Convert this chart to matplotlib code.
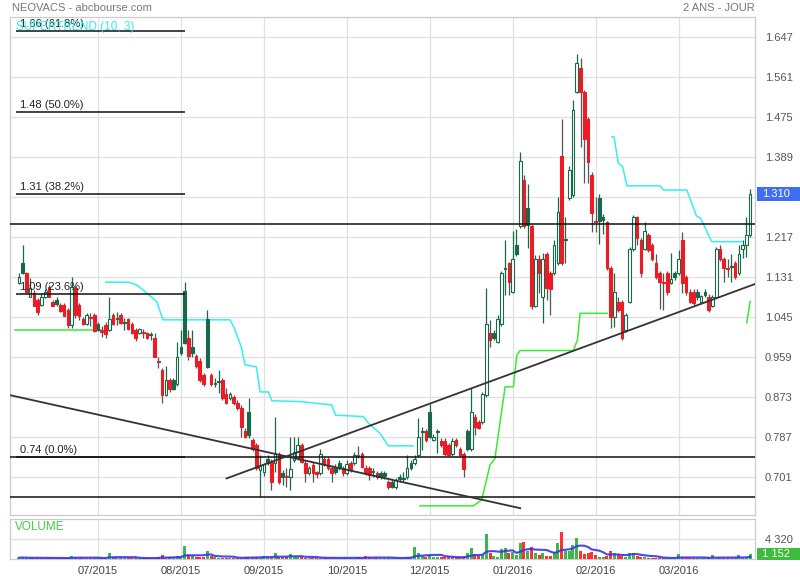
import numpy as np
import pandas as pd
import matplotlib
matplotlib.use('Agg')
import matplotlib.pyplot as plt
from matplotlib.patches import Rectangle
import matplotlib.transforms as mtrans

plt.rcParams['font.family'] = ['Liberation Sans', 'DejaVu Sans']

# ---------------- data ----------------
opens = [1.120,1.162,1.140,1.090,1.097,1.083,1.072,1.090,1.111,1.079,
         1.082,1.072,1.072,1.061,1.029,1.108,1.072,1.042,1.030,1.046,
         1.050,1.030,1.018,1.029,1.018,1.050,1.043,1.050,1.035,1.042,
         1.030,1.018,1.011,1.014,1.011,1.009,1.000,0.951,0.932,0.878,
         0.911,0.911,0.902,0.982,1.102,1.000,0.982,0.962,0.952,0.921,
         1.041,0.921,0.904,0.908,0.911,0.880,0.871,0.873,0.862,0.851,
         0.802,0.841,0.782,0.771,0.717,0.712,0.741,0.735,0.733,0.751,
         0.710,0.704,0.703,0.739,0.742,0.771,0.733,0.710,0.728,0.712,
         0.710,0.740,0.740,0.722,0.724,0.732,0.721,0.710,0.732,0.732,
         0.750,0.751,0.722,0.721,0.715,0.710,0.710,0.711,0.692,0.692,
         0.680,0.703,0.700,0.701,0.732,0.732,0.749,0.801,0.801,0.841,
         0.782,0.801,0.780,0.780,0.771,0.751,0.782,0.762,0.751,0.801,
         0.762,0.832,0.820,0.820,0.878,1.011,1.011,0.992,1.031,1.151,
         1.162,1.100,1.201,1.242,1.341,1.280,1.242,1.070,1.170,1.090,
         1.181,1.140,1.140,1.162,1.392,1.213,1.301,1.308,1.530,1.581,
         1.530,1.472,1.351,1.252,1.301,1.262,1.251,1.151,1.047,1.079,
         1.079,1.018,1.079,1.192,1.260,1.212,1.192,1.222,1.201,1.162,
         1.140,1.121,1.140,1.120,1.140,1.140,1.212,1.131,1.100,1.100,
         1.100,1.079,1.100,1.090,1.070,1.090,1.192,1.170,1.151,1.156,
         1.162,1.140,1.192,1.201,1.222]
highs = [1.141,1.201,1.143,1.130,1.104,1.087,1.098,1.106,1.115,1.083,
         1.089,1.076,1.076,1.065,1.131,1.113,1.076,1.046,1.055,1.055,
         1.055,1.035,1.027,1.035,1.090,1.055,1.057,1.055,1.044,1.044,
         1.035,1.022,1.022,1.020,1.014,1.014,1.012,0.961,0.936,0.941,
         0.915,0.915,0.993,1.018,1.122,1.018,1.018,0.967,0.958,0.926,
         1.061,0.926,0.915,0.932,0.915,0.893,0.885,0.878,0.868,0.857,
         0.807,0.871,0.786,0.775,0.749,0.732,0.749,0.741,0.832,0.756,
         0.717,0.721,0.789,0.789,0.789,0.775,0.739,0.726,0.734,0.716,
         0.762,0.745,0.745,0.728,0.730,0.739,0.726,0.739,0.736,0.756,
         0.769,0.756,0.728,0.726,0.721,0.715,0.715,0.715,0.696,0.696,
         0.700,0.709,0.713,0.749,0.739,0.749,0.828,0.810,0.805,0.860,
         0.795,0.805,0.786,0.786,0.775,0.786,0.786,0.767,0.756,0.805,
         0.893,0.838,0.825,0.885,1.109,1.040,1.018,1.050,1.145,1.212,
         1.164,1.232,1.235,1.400,1.351,1.332,1.246,1.179,1.179,1.184,
         1.186,1.145,1.212,1.305,1.472,1.262,1.371,1.513,1.611,1.602,
         1.534,1.476,1.358,1.305,1.310,1.268,1.252,1.156,1.140,1.090,
         1.083,1.055,1.197,1.265,1.263,1.216,1.251,1.227,1.205,1.181,
         1.145,1.140,1.145,1.183,1.145,1.190,1.229,1.136,1.106,1.106,
         1.106,1.093,1.106,1.096,1.093,1.197,1.201,1.175,1.170,1.181,
         1.166,1.201,1.212,1.262,1.321]
lows = [1.117,1.139,1.098,1.089,1.069,1.050,1.070,1.087,1.089,1.069,
        1.069,1.057,1.048,1.022,1.022,1.044,1.040,1.029,1.029,1.027,
        1.014,1.016,1.003,1.001,1.016,1.029,1.029,1.031,1.018,1.018,
        1.009,0.994,1.009,1.001,0.999,0.997,0.960,0.936,0.862,0.876,
        0.885,0.889,0.898,0.964,0.988,0.954,0.960,0.936,0.906,0.898,
        0.936,0.898,0.896,0.883,0.868,0.859,0.868,0.857,0.846,0.789,
        0.786,0.786,0.758,0.717,0.660,0.704,0.728,0.674,0.713,0.687,
        0.685,0.681,0.674,0.734,0.739,0.732,0.692,0.706,0.692,0.700,
        0.706,0.726,0.717,0.692,0.709,0.717,0.704,0.706,0.713,0.728,
        0.743,0.721,0.706,0.696,0.702,0.698,0.698,0.698,0.676,0.678,
        0.676,0.691,0.691,0.698,0.717,0.728,0.745,0.760,0.777,0.786,
        0.780,0.754,0.767,0.747,0.747,0.747,0.767,0.745,0.703,0.758,
        0.758,0.792,0.806,0.816,0.874,0.982,0.997,0.990,1.027,1.093,
        1.093,1.098,1.177,1.237,1.237,1.194,1.063,1.068,1.097,1.033,
        1.083,1.050,1.136,1.158,1.158,1.162,1.298,1.304,1.528,1.412,
        1.334,1.334,1.229,1.229,1.203,1.225,1.147,1.022,1.025,1.057,
        0.997,1.014,1.076,1.188,1.201,1.133,1.190,1.186,1.166,1.128,
        1.063,1.061,1.093,1.118,1.126,1.136,1.097,1.093,1.076,1.072,
        1.083,1.076,1.089,1.057,1.068,1.087,1.166,1.122,1.133,1.122,
        1.128,1.136,1.172,1.176,1.218]
closes = [1.131,1.140,1.100,1.108,1.070,1.057,1.090,1.100,1.090,1.070,
          1.073,1.059,1.049,1.029,1.111,1.050,1.048,1.030,1.050,1.044,
          1.016,1.018,1.014,1.009,1.042,1.030,1.041,1.033,1.034,1.020,
          1.011,1.000,1.020,1.012,1.000,1.008,0.961,0.950,0.878,0.911,
          0.891,0.892,0.961,0.969,0.991,0.962,0.969,0.941,0.911,0.902,
          0.939,0.902,0.902,0.906,0.871,0.862,0.880,0.861,0.850,0.810,
          0.787,0.792,0.762,0.721,0.728,0.729,0.732,0.691,0.751,0.691,
          0.703,0.702,0.719,0.755,0.771,0.735,0.710,0.721,0.710,0.708,
          0.751,0.729,0.721,0.710,0.713,0.722,0.710,0.730,0.717,0.749,
          0.748,0.724,0.710,0.706,0.713,0.701,0.703,0.704,0.680,0.681,
          0.696,0.697,0.699,0.721,0.721,0.740,0.789,0.799,0.782,0.789,
          0.789,0.799,0.771,0.751,0.749,0.780,0.771,0.749,0.719,0.762,
          0.841,0.810,0.808,0.880,1.030,0.997,1.001,1.041,1.140,1.149,
          1.121,1.170,1.181,1.381,1.242,1.244,1.070,1.170,1.140,1.170,
          1.109,1.107,1.201,1.271,1.162,1.212,1.362,1.491,1.592,1.530,
          1.429,1.380,1.270,1.251,1.252,1.254,1.151,1.047,1.100,1.061,
          1.000,1.050,1.192,1.260,1.215,1.140,1.231,1.190,1.170,1.131,
          1.121,1.120,1.100,1.128,1.132,1.170,1.120,1.100,1.079,1.076,
          1.090,1.091,1.093,1.061,1.090,1.192,1.170,1.151,1.150,1.154,
          1.131,1.181,1.201,1.222,1.310]
volumes = [350,420,300,250,380,300,280,260,240,300,
           260,220,300,340,700,420,380,300,260,280,
           240,300,260,250,1440,500,420,300,260,240,
           250,300,280,240,260,220,300,420,900,350,
           450,400,700,480,2880,900,700,450,400,500,
           1800,700,400,350,300,380,300,260,300,350,
           500,420,600,400,450,700,400,300,1300,500,
           500,400,1150,600,500,400,350,300,280,300,
           350,300,260,280,400,300,260,300,280,300,
           400,300,700,450,350,300,260,280,300,350,
           260,250,300,500,400,2600,1300,800,600,1000,
           450,400,600,450,500,400,350,400,600,1300,
           2520,1100,700,900,5470,1440,700,500,2160,2376,
           1300,1600,1000,3456,3672,1800,2600,1400,1000,1300,
           800,800,1500,3456,5830,1800,1800,3000,4536,1800,
           1200,1300,1500,900,600,400,700,1700,1300,1150,
           800,600,1400,1400,700,450,400,350,300,300,
           250,300,250,300,250,1150,400,300,250,300,
           250,300,250,400,900,300,350,300,250,300,
           300,850,400,600,1152]

date_tick_idx = [21, 43, 65, 87, 109, 131, 153, 175]
date_tick_labels = ['07/2015', '08/2015', '09/2015', '10/2015',
                    '12/2015', '01/2016', '02/2016', '03/2016']
price_ticks = [1.647, 1.561, 1.475, 1.389, 1.303, 1.217, 1.131, 1.045,
               0.959, 0.873, 0.787, 0.701]
volume_tick = 4320

fib_base = 0.7446
fib_span = 1.483
fib_ratios = [0.0, 0.236, 0.382, 0.5, 0.618]
fib_labels = ['0.74 (0.0%)', '1.09 (23.6%)', '1.31 (38.2%)',
              '1.48 (50.0%)', '1.66 (61.8%)']
fib_idx_range = (-0.75, 44.1)
full_hlines = [1.246, 0.7446, 0.660]
trend_down = ([-2.35, 133.0], [0.878, 0.635])
trend_up = ([55.1, 195.3], [0.699, 1.117])

st_support = [
    ([-1.0, 22.0], [1.018, 1.018]),
    ([106.4, 120.6, 122.8, 125.0, 126.3, 129.0, 131.2, 132.1, 133.0, 147.1, 148.2, 148.9, 156.1],
     [0.640, 0.640, 0.653, 0.728, 0.742, 0.896, 0.896, 0.964, 0.974, 0.974, 0.997, 1.054, 1.054]),
    ([193.1, 194.0], [1.034, 1.079]),
]
st_resist = [
    ([23, 29, 31.3, 34, 36.6, 38.2, 56, 57, 59, 60, 63, 64, 66.2, 67.1, 75, 83, 84, 91.4, 92.7, 95.8, 98, 104.6],
     [1.121, 1.121, 1.115, 1.097, 1.079, 1.040, 1.040, 1.025, 0.982, 0.943, 0.939, 0.885, 0.885, 0.866,
      0.864, 0.857, 0.835, 0.832, 0.818, 0.796, 0.769, 0.769]),
    ([157.3, 157.9, 159.0, 160.2, 161.3, 170.1, 171.0, 177.2, 179.8, 180.9, 183.8, 191.8],
     [1.434, 1.433, 1.377, 1.369, 1.328, 1.328, 1.319, 1.319, 1.263, 1.258, 1.208, 1.208]),
]

# ---------------- figure ----------------
W, H = 800, 580
fig = plt.figure(figsize=(W / 100, H / 100), dpi=100)
fig.patch.set_facecolor('white')
ax = fig.add_axes([10 / W, (H - 515) / H, 745 / W, 498 / H])
vax = fig.add_axes([10 / W, (H - 559.3) / H, 745 / W, 40 / H])

GREEN_D = '#17694a'
RED = '#ec1c24'
GRID = '#e0e0e0'
BORDER = '#cccccc'

o = np.array(opens); h = np.array(highs); l = np.array(lows); c = np.array(closes)
n = len(c)
idx = np.arange(n)
prev = np.r_[o[0], c[:-1]]
up_day = c >= prev
hollow = c > o

line_col = np.where(up_day, GREEN_D, RED)
face = np.where(hollow, 'white', line_col)
wick_col = np.where(up_day, GREEN_D, '#555555')

ax.vlines(idx, l, h, colors=wick_col, lw=0.9, zorder=3)
body_h = np.abs(c - o)
mid = (c + o) / 2
min_h = 0.0025
bh = np.maximum(body_h, min_h)
ax.bar(idx, bh, bottom=mid - bh / 2, width=0.7, color=face,
       edgecolor=line_col, linewidth=0.8, zorder=4)

# horizontal lines and fibonacci
for v in full_hlines:
    ax.axhline(v, color='#111111', lw=1.1, zorder=5)
for r, lab in zip(fib_ratios, fib_labels):
    lev = fib_base + r * fib_span
    ax.hlines(lev, fib_idx_range[0], fib_idx_range[1], colors='#111111', lw=1.1, zorder=5)
    ax.annotate(lab, xy=(0.3, lev), xytext=(0, 1.5), textcoords='offset points',
                ha='left', va='bottom', fontsize=8, color='#222222', zorder=6)

ax.plot(*trend_down, color='#333333', lw=1.3, zorder=5)
ax.plot(*trend_up, color='#333333', lw=1.3, zorder=5)

for xs, ys in st_support:
    ax.plot(xs, ys, color='#33ee33', lw=1.1, zorder=2)
for xs, ys in st_resist:
    ax.plot(xs, ys, color='#33f0f0', lw=1.1, zorder=2)

ax.set_xlim(-2.345, 195.29)
ax.set_ylim(0.62035, 1.69105)
ax.set_xticks(date_tick_idx)
ax.tick_params(axis='x', length=0, labelbottom=False)
ax.yaxis.tick_right()
ax.set_yticks(price_ticks)
ax.set_yticklabels(['' if abs(v - 1.303) < 1e-6 else f'{v:.3f}' for v in price_ticks])
ax.tick_params(axis='y', length=0, pad=7, labelsize=8, labelcolor='#555555')
ax.grid(True, color=GRID, lw=0.9, zorder=0)
ax.set_axisbelow(True)
for s in ax.spines.values():
    s.set_color(BORDER); s.set_linewidth(0.9)

# last price box
bt = mtrans.blended_transform_factory(fig.transFigure, ax.transData)
ax.add_patch(Rectangle((757 / W, c[-1] - 0.0152), 43 / W, 0.0304, transform=bt,
                       facecolor='#3f6ef4', edgecolor='none', clip_on=False, zorder=10))
ax.text(762 / W, c[-1], f'{c[-1]:.3f}', transform=bt, color='white', fontsize=8,
        va='center', ha='left', clip_on=False, zorder=11)

# ---------------- volume ----------------
vcol = np.where(up_day, '#3cb84a', '#ff3232')
vax.bar(idx, volumes, width=0.8, color=vcol, zorder=3)
vma = pd.Series(volumes, dtype=float).rolling(8, min_periods=1).mean()
vax.plot(idx, vma, color='#3535ee', lw=1.5, zorder=4, alpha=0.9)
vax.set_xlim(-2.345, 195.29)
vax.set_ylim(0, 8640)
vax.set_xticks(date_tick_idx)
vax.set_xticklabels(date_tick_labels)
vax.tick_params(axis='x', length=0, pad=5, labelsize=8, labelcolor='#444444')
vax.yaxis.tick_right()
vax.set_yticks([volume_tick])
vax.set_yticklabels(['4 320'])
vax.tick_params(axis='y', length=0, pad=7, labelsize=8, labelcolor='#555555')
vax.grid(True, color=GRID, lw=0.9, zorder=0)
vax.set_axisbelow(True)
for s in vax.spines.values():
    s.set_color(BORDER); s.set_linewidth(0.9)
vbt = mtrans.blended_transform_factory(fig.transFigure, vax.transData)
vax.add_patch(Rectangle((757 / W, volumes[-1] - 1370), 43 / W, 2740, transform=vbt,
                        facecolor='#3dbb3d', edgecolor='none', clip_on=False, zorder=10))
vax.text(762 / W, volumes[-1], '1 152', transform=vbt, color='white', fontsize=8,
         va='center', ha='left', clip_on=False, zorder=11)

# ---------------- texts ----------------
fig.text(12 / W, 1 - 8 / H, 'NEOVACS - abcbourse.com', ha='left', va='center',
         fontsize=8, color='#777777')
fig.text(755 / W, 1 - 8 / H, '2 ANS - JOUR', ha='right', va='center',
         fontsize=8, color='#777777')
fig.text(16 / W, 1 - 27 / H, 'SUPERTREND (10, 3)', ha='left', va='center',
         fontsize=8.5, color='#33eeee', zorder=12)
fig.text(15 / W, 1 - 527 / H, 'VOLUME', ha='left', va='center',
         fontsize=8.5, color='#44cc44')

fig.savefig('out.png', dpi=100)
